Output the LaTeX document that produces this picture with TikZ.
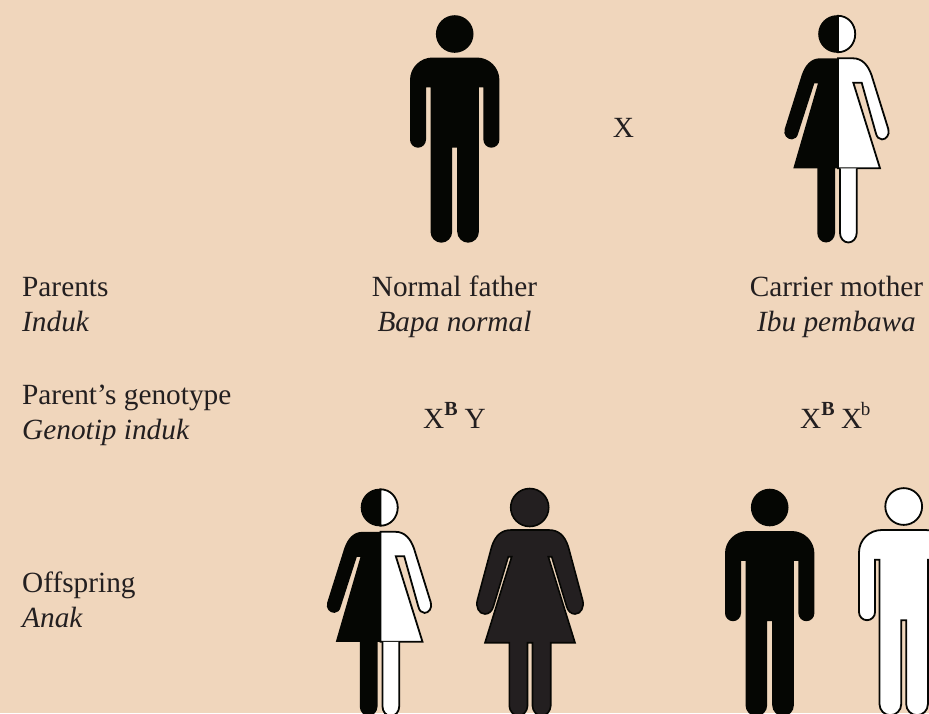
\documentclass[tikz,border=0pt]{standalone}
\usepackage{fontspec}
\setmainfont{Liberation Serif}
\definecolor{bgc}{HTML}{F0D6BC}
\definecolor{figk}{HTML}{050603}
\definecolor{figd}{HTML}{231F20}
\definecolor{txtc}{HTML}{231F20}
\newcommand{\manpath}{(-22,57.5) -- (22,57.5) .. controls (34.5,57.5) and (44.7,67.5) .. (44.7,80) -- (44.7,139.7) .. controls (44.7,144.1) and (41.1,147.7) .. (36.7,147.7) .. controls (32.3,147.7) and (28.7,144.1) .. (28.7,139.7) -- (28.7,87.3) -- (24.2,87.3) -- (24.2,231.7) .. controls (24.2,237.8) and (19.2,242.7) .. (13.4,242.7) .. controls (7.5,242.7) and (2.5,237.8) .. (2.5,231.7) -- (2.5,147.7) -- (-2.5,147.7) -- (-2.5,231.7) .. controls (-2.5,237.8) and (-7.5,242.7) .. (-13.4,242.7) .. controls (-19.2,242.7) and (-24.2,237.8) .. (-24.2,231.7) -- (-24.2,87.3) -- (-28.7,87.3) -- (-28.7,139.7) .. controls (-28.7,144.1) and (-32.3,147.7) .. (-36.7,147.7) .. controls (-41.1,147.7) and (-44.7,144.1) .. (-44.7,139.7) -- (-44.7,80) .. controls (-44.7,67.5) and (-34.5,57.5) .. (-22,57.5) -- cycle}
\newcommand{\womanleft}{(838,58.3) -- (820,58.3) .. controls (811,58.3) and (805,65) .. (801.7,75) -- (784.7,129) .. controls (783,135) and (787,139.4) .. (792,139.4) .. controls (795,139.4) and (797.5,137) .. (798.3,133) -- (814.3,83.3) -- (818,83.3) -- (793.3,168.3) -- (838,168.3) -- cycle}
\newcommand{\womanright}{(838,58.3) -- (853,58.3) .. controls (862,58.3) and (868,65) .. (871.5,75) -- (888.3,129) .. controls (890,135) and (886,139.4) .. (882,139.4) .. controls (879,139.4) and (876.7,137) .. (875.8,133) -- (861.7,82.7) -- (853.3,82.7) -- (880,168.3) -- (838,168.3) -- cycle}
\newcommand{\legleft}{(817.3,166) -- (817.3,233) .. controls (817.3,238) and (821,242.5) .. (826.1,242.5) .. controls (831,242.5) and (835,238) .. (835,233) -- (835,166) -- cycle}
\newcommand{\legright}{(840,168.3) -- (840,233) .. controls (840,238) and (843.6,242.5) .. (848.4,242.5) .. controls (853,242.5) and (856.7,238) .. (856.7,233) -- (856.7,168.3)}
\newcommand{\halfhead}{(838,15.8) .. controls (848,15.8) and (855.2,24) .. (855.2,34) .. controls (855.2,44) and (848,52.2) .. (838,52.2) -- cycle}
\newcommand{\solidwoman}{(530,530) -- (549,530) .. controls (558,530) and (564.6,535) .. (568.3,546.7) -- (582.6,600) .. controls (584.5,607) and (581,614) .. (575,614) .. controls (571,614) and (568,611) .. (566.7,606.7) -- (551.7,556.7) -- (548.3,556.7) -- (575,642.7) -- (550.7,642.7) -- (550.7,706) .. controls (550.7,711) and (546,716) .. (541.6,716) .. controls (537,716) and (532.5,711) .. (532.5,706) -- (532.5,642.7) -- (527.5,642.7) -- (527.5,706) .. controls (527.5,711) and (523,716) .. (518.4,716) .. controls (514,716) and (509.3,711) .. (509.3,706) -- (509.3,642.7) -- (485,642.7) -- (511.7,556.7) -- (508.3,556.7) -- (493.3,606.7) .. controls (492,611) and (489,614) .. (485,614) .. controls (479,614) and (475.5,607) .. (477.4,600) -- (491.7,546.7) .. controls (495.4,535) and (502,530) .. (511,530) -- cycle}
\tikzset{
  lab/.style={inner sep=0pt,anchor=base west,text=txtc,font=\fontsize{29.3}{29.3}\selectfont},
  labc/.style={inner sep=0pt,anchor=base,text=txtc,font=\fontsize{29.3}{29.3}\selectfont},
  outl/.style={fill=white,draw=figk,line width=1.8pt,line join=miter},
  sold/.style={fill=figd,draw=figk,line width=1.6pt,line join=miter},
}
\newcommand{\supB}{\raisebox{12.5pt}{\fontsize{20}{20}\selectfont\bfseries B}}
\newcommand{\supb}{\raisebox{13pt}{\fontsize{19}{19}\selectfont b}}
\begin{document}
\begin{tikzpicture}[x=1pt,y=-1pt]
\useasboundingbox (0,0) rectangle (929,713);
\clip (0,0) rectangle (929,713);
\fill[bgc] (0,0) rectangle (929,713);
% father
\begin{scope}[shift={(454.7,0)}]
  \fill[figk] (0,34) circle[radius=18.8];
  \fill[figk] \manpath;
\end{scope}
% mother
\fill[figk] (837,34) circle[radius=18.8];
\draw[outl] \halfhead;
\fill[figk] \womanleft;
\draw[outl] \womanright;
\fill[figk] \legleft;
\draw[outl] \legright;
% carrier daughter
\begin{scope}[shift={(-457.5,473.5)}]
  \fill[figk] (837,34) circle[radius=18.8];
  \draw[outl] \halfhead;
  \fill[figk] \womanleft;
  \draw[outl] \womanright;
  \fill[figk] \legleft;
  \draw[outl] \legright;
\end{scope}
% solid daughter
\draw[sold] (529.7,507.5) circle[radius=19];
\draw[sold] \solidwoman;
% son
\begin{scope}[shift={(769.7,473.5)}]
  \fill[figk] (0,34) circle[radius=18.8];
  \fill[figk] \manpath;
\end{scope}
% white son
\begin{scope}[shift={(903.7,472.5)}]
  \draw[outl] (0,34) circle[radius=18.4];
  \draw[outl] \manpath;
\end{scope}
% labels
\node[lab] (t1) at (22,296) {Parents};
\node[lab] (t2) at (22,331) {\itshape Induk};
\node[lab] (t3) at (22,404) {Parent’s genotype};
\node[lab] (t4) at (22,439) {\itshape Genotip induk};
\node[lab] (t5) at (22,592) {Offspring};
\node[lab] (t6) at (22,627.5) {\itshape Anak};
\node[labc] (t7) at (454.5,296) {Normal father};
\node[labc] (t8) at (454.5,331) {\itshape Bapa normal};
\node[labc] (t9) at (836.5,296) {Carrier mother};
\node[labc] (t10) at (836.5,331) {\itshape Ibu pembawa};
\node[labc] (t11) at (623.5,137) {X};
\node[lab] (t12) at (423,428) {X\supB\hspace{7pt}Y};
\node[lab] (t13) at (800,428) {X\supB\hspace{6.5pt}X\hspace{-1.5pt}\supb};
\end{tikzpicture}
\end{document}
